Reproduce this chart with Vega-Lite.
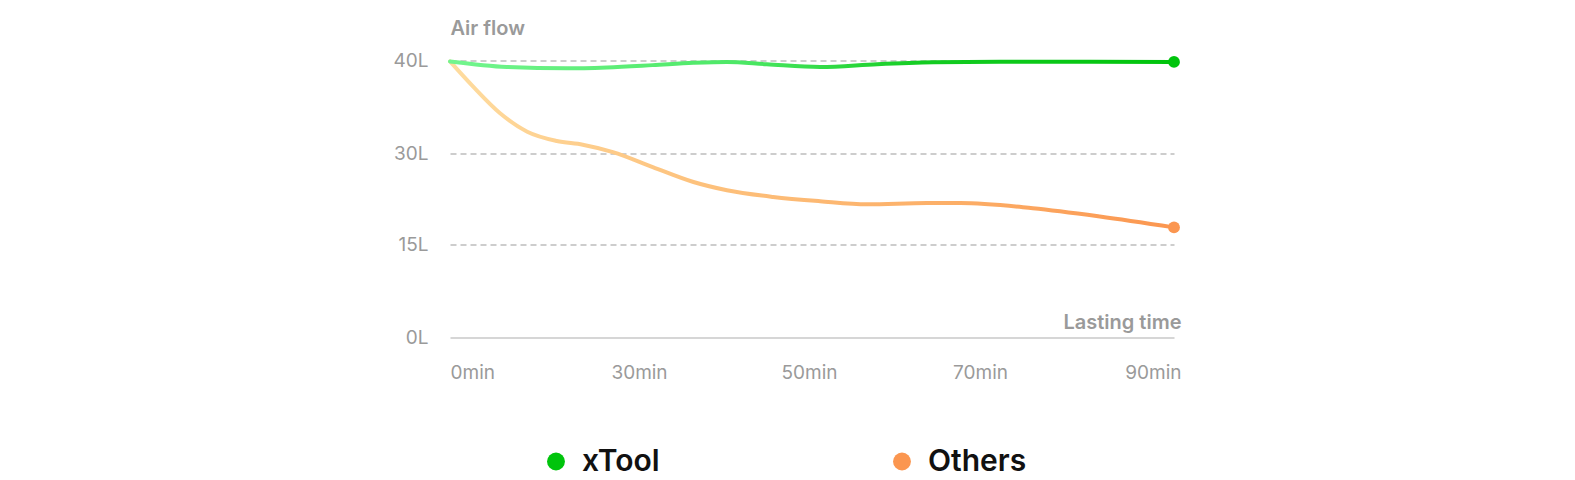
{
  "$schema": "https://vega.github.io/schema/vega-lite/v6.json",
  "autosize": {"type": "none"},
  "padding": {"left": 450, "top": 60.5, "right": 401, "bottom": 142.5},
  "width": 724,
  "height": 277,
  "background": "white",
  "config": {
    "view": {"stroke": null},
    "font": "Inter"
  },
  "data": {
    "values": [
      {"series": "Others", "t": 0, "v": 39.9},
      {"series": "Others", "t": 3.8, "v": 37.2},
      {"series": "Others", "t": 8.3, "v": 34.3},
      {"series": "Others", "t": 12.8, "v": 32.3},
      {"series": "Others", "t": 17.7, "v": 31.3},
      {"series": "Others", "t": 22.0, "v": 30.9},
      {"series": "Others", "t": 27.0, "v": 30.1},
      {"series": "Others", "t": 32.4, "v": 27.7},
      {"series": "Others", "t": 36.9, "v": 25.25},
      {"series": "Others", "t": 40.6, "v": 23.9},
      {"series": "Others", "t": 45.7, "v": 22.8},
      {"series": "Others", "t": 50.9, "v": 22.1},
      {"series": "Others", "t": 56.1, "v": 21.6},
      {"series": "Others", "t": 62.7, "v": 21.8},
      {"series": "Others", "t": 66.4, "v": 21.8},
      {"series": "Others", "t": 74.4, "v": 20.95},
      {"series": "Others", "t": 81.8, "v": 19.6},
      {"series": "Others", "t": 90, "v": 17.8},
      {"series": "xTool", "t": 0, "v": 39.9},
      {"series": "xTool", "t": 9.4, "v": 39.3},
      {"series": "xTool", "t": 19.4, "v": 39.15},
      {"series": "xTool", "t": 26.0, "v": 39.25},
      {"series": "xTool", "t": 32.4, "v": 39.5},
      {"series": "xTool", "t": 36.9, "v": 39.75},
      {"series": "xTool", "t": 40.6, "v": 39.85},
      {"series": "xTool", "t": 45.0, "v": 39.6},
      {"series": "xTool", "t": 50.9, "v": 39.3},
      {"series": "xTool", "t": 57.2, "v": 39.6},
      {"series": "xTool", "t": 63.4, "v": 39.8},
      {"series": "xTool", "t": 70.8, "v": 39.87},
      {"series": "xTool", "t": 80.7, "v": 39.87},
      {"series": "xTool", "t": 90, "v": 39.85}
    ]
  },
  "encoding": {
    "x": {
      "field": "t",
      "type": "quantitative",
      "scale": {"domain": [0, 30, 50, 70, 90], "range": [0, 181, 362, 543, 724]},
      "axis": {
        "values": [0, 30, 50, 70, 90],
        "labelExpr": "datum.value + 'min'",
        "labelFlush": true,
        "labelOffset": {
          "condition": [
            {"test": "datum.value == 30", "value": 8},
            {"test": "datum.value == 50", "value": -3},
            {"test": "datum.value == 70", "value": -13},
            {"test": "datum.value == 90", "value": 7}
          ],
          "value": 0
        },
        "labelFont": "Inter",
        "labelFontSize": 19,
        "labelColor": "#9a9a9a",
        "labelPadding": 26,
        "ticks": false,
        "tickSize": 0,
        "grid": false,
        "domainColor": "#c8c8c8",
        "domainWidth": 1.5,
        "title": "Lasting time",
        "titleFont": "Inter",
        "titleFontSize": 20,
        "titleFontWeight": 600,
        "titleColor": "#9a9a9a",
        "titleX": 731,
        "titleY": -15,
        "titleAlign": "right",
        "titleBaseline": "middle",
        "titleAngle": 0
      }
    },
    "y": {
      "field": "v",
      "type": "quantitative",
      "scale": {"domain": [0, 15, 30, 40], "range": [277, 184, 92.5, 0]},
      "axis": {
        "values": [0, 15, 30, 40],
        "labelExpr": "datum.value + 'L'",
        "labelFont": "Inter",
        "labelFontSize": 19,
        "labelColor": "#9a9a9a",
        "labelPadding": 22,
        "ticks": false,
        "tickSize": 0,
        "domain": false,
        "grid": true,
        "gridColor": "#bdbdbd",
        "gridDash": [6, 4],
        "gridWidth": 1.5,
        "gridOpacity": {"condition": {"test": "datum.value == 0", "value": 0}, "value": 1},
        "title": "Air flow",
        "titleFont": "Inter",
        "titleFontSize": 20,
        "titleFontWeight": 600,
        "titleColor": "#9a9a9a",
        "titleAngle": 0,
        "titleX": 0,
        "titleY": -32.5,
        "titleAlign": "left",
        "titleBaseline": "middle"
      }
    }
  },
  "layer": [
    {
      "transform": [{"filter": "datum.series == 'Others'"}],
      "mark": {
        "type": "line",
        "interpolate": "monotone",
        "strokeWidth": 4,
        "strokeCap": "round",
        "stroke": {
          "gradient": "linear",
          "x1": 0, "y1": 0, "x2": 1, "y2": 0,
          "stops": [
            {"offset": 0, "color": "#fedc9f"},
            {"offset": 0.35, "color": "#fdc17c"},
            {"offset": 0.7, "color": "#fcae67"},
            {"offset": 1, "color": "#fb9650"}
          ]
        }
      },
      "encoding": {}
    },
    {
      "transform": [{"filter": "datum.series == 'xTool'"}],
      "mark": {
        "type": "line",
        "interpolate": "monotone",
        "strokeWidth": 4,
        "strokeCap": "round",
        "stroke": {
          "gradient": "linear",
          "x1": 0, "y1": 0, "x2": 1, "y2": 0,
          "stops": [
            {"offset": 0, "color": "#72f58e"},
            {"offset": 0.4, "color": "#4de866"},
            {"offset": 0.65, "color": "#14cc22"},
            {"offset": 1, "color": "#00c40c"}
          ]
        }
      },
      "encoding": {}
    },
    {
      "transform": [{"filter": "datum.t == 90"}],
      "mark": {"type": "point", "shape": "circle", "filled": true, "size": 140, "opacity": 1},
      "encoding": {
        "color": {
          "field": "series",
          "type": "nominal",
          "scale": {"domain": ["xTool", "Others"], "range": ["#00c40c", "#fb9650"]},
          "legend": {
            "title": null,
            "orient": "none",
            "direction": "horizontal",
            "legendX": 91,
            "legendY": 386,
            "padding": 0,
            "symbolType": "circle",
            "symbolSize": 320,
            "symbolStrokeWidth": 0,
            "symbolOpacity": 1,
            "labelFont": "Inter",
            "labelFontSize": 30,
            "labelFontWeight": 600,
            "labelColor": "#111111",
            "labelOffset": 11,
            "labelBaseline": "middle",
            "columnPadding": 227
          }
        }
      }
    }
  ]
}
